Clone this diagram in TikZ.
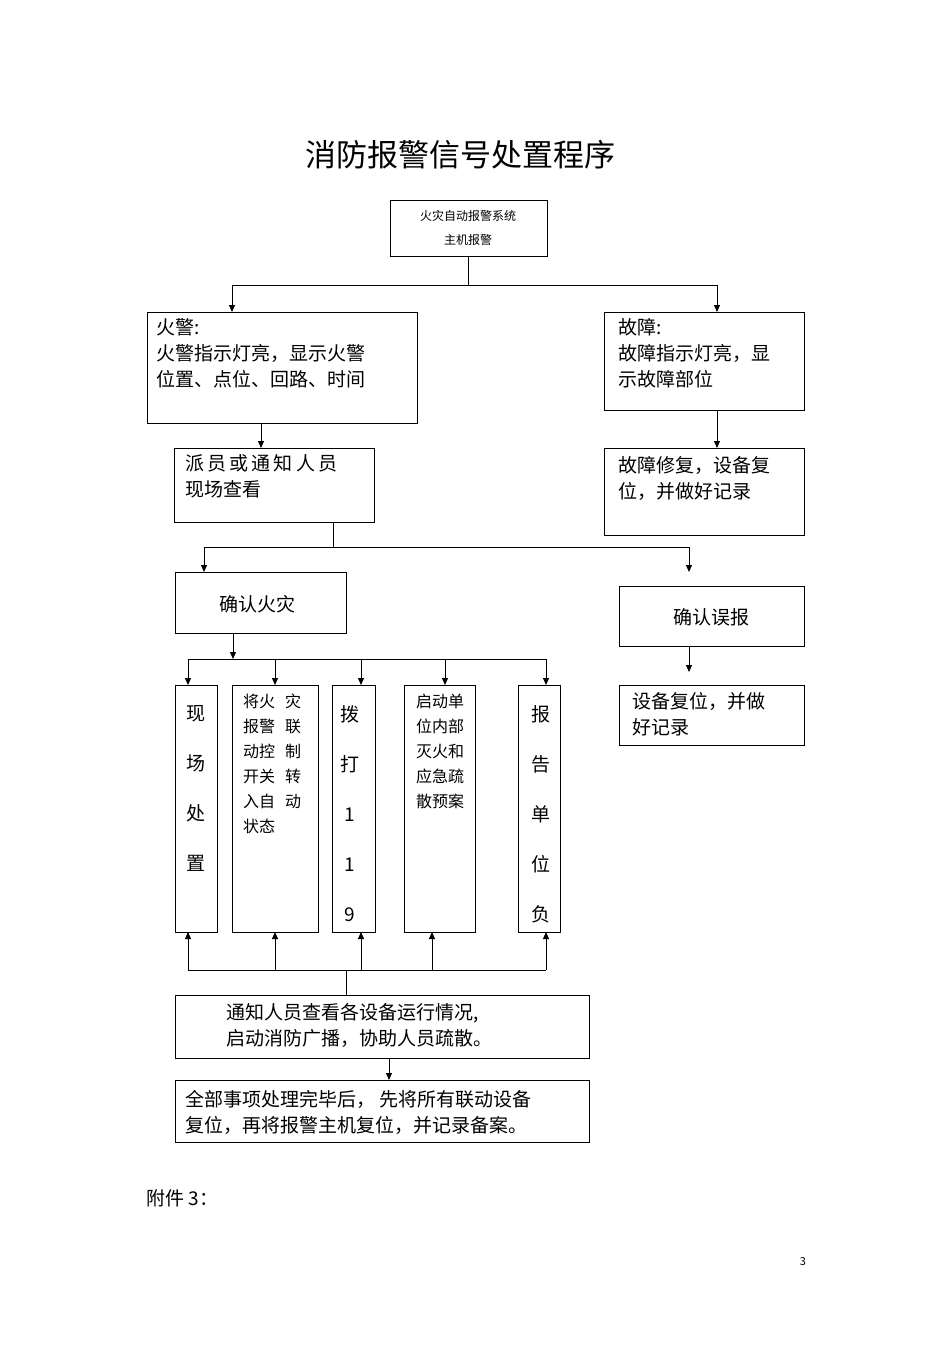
\documentclass[tikz,border=0pt]{standalone}
\usepackage{fontspec}
\setmainfont{Noto Sans CJK SC}
\usetikzlibrary{arrows.meta}
\begin{document}
\begin{tikzpicture}[x=1pt,y=-1pt,
  box/.style={draw,line width=1pt},
  arr/.style={line width=1pt,-{Triangle[length=7pt,width=6pt]}},
  ln/.style={line width=1pt},
  t/.style={inner sep=0pt,anchor=north west,align=left,font=\fontsize{19}{26}\selectfont},
  v/.style={inner sep=0pt,anchor=north,align=center,font=\fontsize{19}{50}\selectfont}]
\useasboundingbox (0,0) rectangle (950,1345);
\node[font=\fontsize{31}{36}\selectfont] (title) at (460,155) {消防报警信号处置程序};
% top
\draw[box] (390,200) rectangle (547,256);
\node[font=\fontsize{12}{24}\selectfont,align=center] (top) at (468,228) {火灾自动报警系统\\主机报警};
\coordinate (b1) at (468,285);
\draw[ln] (468,256) -- (b1);
\draw[ln] (232,285) -- (717,285);
\draw[arr] (232,285) -- (232,312);
\draw[arr] (717,285) -- (717,312);
% fire
\draw[box] (147,312) rectangle (417,423);
\node[t] (fire) at (156,318) {火警:\\火警指示灯亮，显示火警\\位置、点位、回路、时间};
\draw[box] (604,312) rectangle (804,410);
\node[t] (fault) at (618,318) {故障:\\故障指示灯亮，显\\示故障部位};
\draw[arr] (261,423) -- (261,448);
\draw[arr] (717,410) -- (717,448);
\draw[box] (174,448) rectangle (374,522);
\node[t] (send) at (185,454) {派\,员\,或\,通\,知\,人\,员\\现场查看};
\draw[box] (604,448) rectangle (804,535);
\node[t] (fix) at (618,456) {故障修复，设备复\\位，并做好记录};
% confirm
\draw[ln] (333,522) -- (333,547);
\draw[ln] (204,547) -- (689,547);
\draw[arr] (204,547) -- (204,572);
\draw[arr] (689,547) -- (689,572);
\draw[box] (175,572) rectangle (346,633);
\node[font=\fontsize{19}{26}\selectfont] (fire2) at (257,604) {确认火灾};
\draw[box] (619,586) rectangle (804,646);
\node[font=\fontsize{19}{26}\selectfont] (false) at (711,617) {确认误报};
\draw[arr] (689,646) -- (689,672);
\draw[box] (619,685) rectangle (804,745);
\node[t] (reset) at (632,692) {设备复位，并做\\好记录};
% five
\draw[arr] (233,633) -- (233,659);
\draw[ln] (188,659) -- (546,659);
\foreach \x in {188,275,361,445,546} \draw[arr] (\x,659) -- (\x,685);
\draw[box] (175,685) rectangle (217,932);
\draw[box] (232,685) rectangle (318,932);
\draw[box] (332,685) rectangle (375,932);
\draw[box] (404,685) rectangle (475,932);
\draw[box] (518,685) rectangle (560,932);
\node[v] (c1) at (196,705) {现\\场\\处\\置};
\node[t,font=\fontsize{16}{25}\selectfont] (c2a) at (243,694) {将火\\报警\\动控\\开关\\入自\\状态};
\node[t,font=\fontsize{16}{25}\selectfont] (c2b) at (285,694) {灾\\联\\制\\转\\动};
\node[v] (c3) at (350,705) {拨\\打\\1\\1\\9};
\node[t,font=\fontsize{16}{25}\selectfont] (c4) at (416,694) {启动单\\位内部\\灭火和\\应急疏\\散预案};
\node[v] (c5) at (541,705) {报\\告\\单\\位\\负};
\draw[ln] (188,970) -- (546,970);
\foreach \x in {188,275,361,432,546} \draw[arr] (\x,970) -- (\x,932);
\draw[ln] (346,970) -- (346,995);
% bottom
\draw[box] (175,995) rectangle (589,1058);
\node[t] (notify) at (226,1003) {通知人员查看各设备运行情况,\\启动消防广播，协助人员疏散。};
\draw[arr] (389,1058) -- (389,1080);
\draw[box] (175,1080) rectangle (589,1142);
\node[t] (done) at (185,1090) {全部事项处理完毕后，\ 先将所有联动设备\\复位，再将报警主机复位，并记录备案。};
\node[anchor=west,font=\fontsize{19}{26}\selectfont] (att) at (143,1198) {附件\ 3：};
\node[font=\fontsize{11}{13}\selectfont] (pg) at (803,1262) {3};
\end{tikzpicture}
\end{document}
